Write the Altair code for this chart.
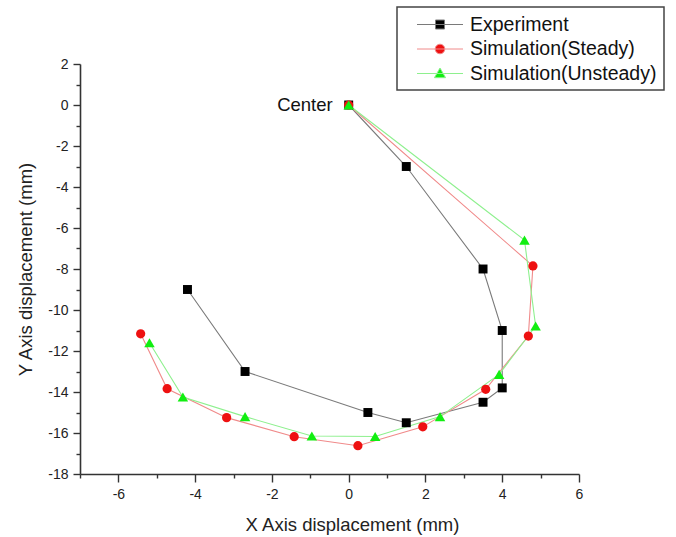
import altair as alt
import pandas as pd

series = ["Experiment", "Simulation(Steady)", "Simulation(Unsteady)"]

exp_x = [0, 1.5, 3.5, 4.0, 4.0, 3.5, 1.5, 0.5, -2.7, -4.2]
exp_y = [0, -3.0, -8.0, -11.0, -13.8, -14.5, -15.5, -15.0, -13.0, -9.0]

st_x = [0, 4.80, 4.68, 3.57, 1.93, 0.24, -1.42, -3.18, -4.73, -5.42]
st_y = [0, -7.85, -11.27, -13.87, -15.70, -16.62, -16.18, -15.25, -13.84, -11.16]

un_x = [0, 4.58, 4.87, 3.92, 2.38, 0.69, -0.96, -2.70, -4.32, -5.19]
un_y = [0, -6.59, -10.78, -13.14, -15.20, -16.17, -16.15, -15.20, -14.24, -11.60]

x_ticks = list(range(-7, 7))
y_ticks = list(range(-18, 3))

line_colors = ["#7a7a7a", "#f08a8a", "#8ef08e"]
marker_colors = ["#000000", "#ee1111", "#11ee11"]
marker_shapes = ["square", "circle", "triangle-up"]
marker_sizes = [80, 85, 110]

legend_paths = [
    "M-2.3,0H2.3M-0.45,-0.45H0.45V0.45H-0.45Z",
    "M-2.3,0H2.3M0.48,0A0.48,0.48 0 1,1 -0.48,0A0.48,0.48 0 1,1 0.48,0Z",
    "M-2.3,0H2.3M0,-0.55L0.56,0.42L-0.56,0.42Z",
]

rows = []
for s, xs, ys in zip(series, [exp_x, st_x, un_x], [exp_y, st_y, un_y]):
    for i, (a, b) in enumerate(zip(xs, ys)):
        rows.append({"series": s, "x": a, "y": b, "order": i})
df = pd.DataFrame(rows)

ann = pd.DataFrame({"x": [0], "y": [0], "text": ["Center"]})

FONT = "Arial, Liberation Sans, sans-serif"

x_axis = alt.Axis(
    values=x_ticks,
    labelExpr="datum.value % 2 === 0 ? '' + datum.value : ''",
    tickSize={"condition": {"test": "datum.value % 2 === 0", "value": 8}, "value": 4},
    grid=False,
    labelFlush=False,
    labelOverlap=False,
    domainColor="#333333",
    tickColor="#333333",
    domainWidth=1.6,
    tickWidth=1.4,
    labelFont=FONT,
    labelFontSize=14,
    labelColor="#222222",
    labelPadding=5,
    titleFont=FONT,
    titleFontSize=18.5,
    titleFontWeight="normal",
    titleColor="#222222",
    titlePadding=14,
    titleX=272,
    titleAlign="center",
)
y_axis = alt.Axis(
    values=y_ticks,
    labelExpr="datum.value % 2 === 0 ? '' + datum.value : ''",
    tickSize={"condition": {"test": "datum.value % 2 === 0", "value": 7}, "value": 4},
    grid=False,
    labelFlush=False,
    labelOverlap=False,
    domainColor="#333333",
    tickColor="#333333",
    domainWidth=1.6,
    tickWidth=1.4,
    labelFont=FONT,
    labelFontSize=14,
    labelColor="#222222",
    labelPadding=5,
    titleFont=FONT,
    titleFontSize=18.5,
    titleFontWeight="normal",
    titleColor="#222222",
    titlePadding=12,
)

x_enc = alt.X("x:Q", scale=alt.Scale(domain=[-7, 6], nice=False, zero=False),
              axis=x_axis, title="X Axis displacement (mm)")
y_enc = alt.Y("y:Q", scale=alt.Scale(domain=[-18, 2], nice=False, zero=False),
              axis=y_axis, title="Y Axis displacement (mm)")

base = alt.Chart(df)

layers = []
for i, s in enumerate(series):
    layers.append(
        base.transform_filter(alt.datum.series == s)
        .mark_line(color=line_colors[i], strokeWidth=1.1)
        .encode(x=x_enc, y=y_enc, order="order:Q")
    )
for i, s in enumerate(series):
    layers.append(
        base.transform_filter(alt.datum.series == s)
        .mark_point(shape=marker_shapes[i], filled=True, color=marker_colors[i],
                    size=marker_sizes[i], opacity=1)
        .encode(x=x_enc, y=y_enc)
    )

legend = alt.Legend(
    title=None,
    orient="none",
    legendX=317,
    legendY=-57,
    symbolSize=400,
    symbolStrokeWidth=1,
    symbolOffset=25.5,
    labelOffset=19.5,
    labelFont=FONT,
    labelFontSize=19.5,
    labelColor="#111111",
    labelLimit=400,
    strokeColor="#444444",
    fillColor="white",
    padding=7,
    rowPadding=4.5,
)

legend_layer = (
    base.transform_filter("datum.x > 1000")
    .mark_point(filled=True, opacity=1)
    .encode(
        x=x_enc,
        y=y_enc,
        shape=alt.Shape("series:N", scale=alt.Scale(domain=series, range=legend_paths), legend=legend),
        fill=alt.Fill("series:N", scale=alt.Scale(domain=series, range=marker_colors), legend=legend),
        stroke=alt.Stroke("series:N", scale=alt.Scale(domain=series, range=line_colors), legend=legend),
    )
)
layers.append(legend_layer)

text_layer = alt.Chart(ann).mark_text(
    align="right", baseline="middle", dx=-16, fontSize=18.5, font=FONT, color="#111111"
).encode(x=x_enc, y=y_enc, text="text:N")
layers.append(text_layer)

chart = alt.layer(*layers).properties(
    width=499,
    height=410,
    padding={"left": 80, "top": 64, "right": 97, "bottom": 63},
    autosize=alt.AutoSizeParams(type="none"),
).configure_view(stroke=None).configure_legend(strokeWidth=1.5)

chart.save("out.html", embed_options={"renderer": "svg", "actions": False})
